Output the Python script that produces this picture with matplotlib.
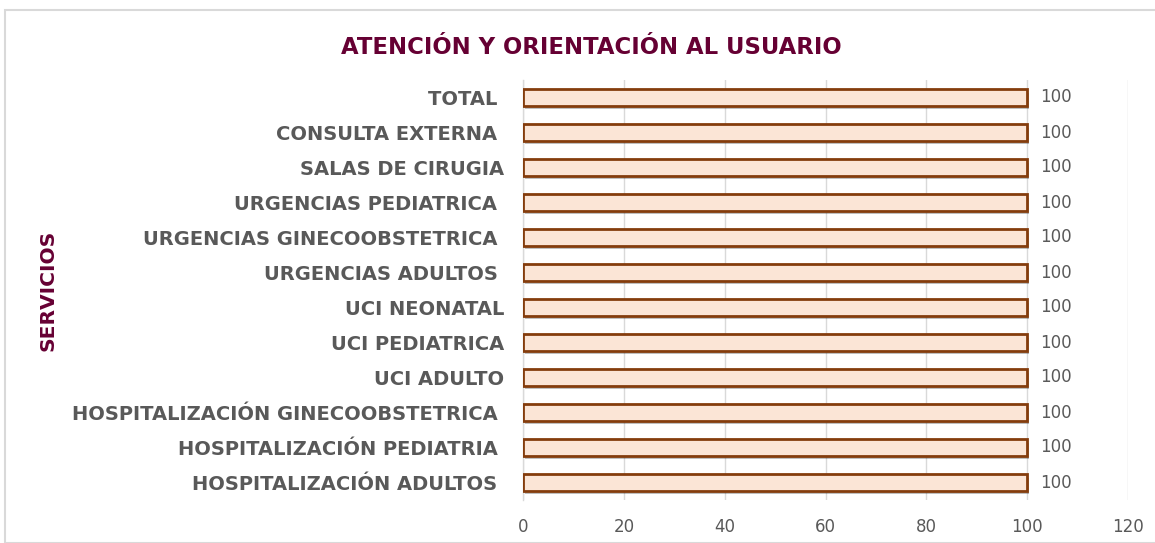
import matplotlib
matplotlib.use("Agg")
import matplotlib.pyplot as plt
from matplotlib.patches import Rectangle
import matplotlib.patheffects as pe

plt.rcParams["font.family"] = ["DejaVu Sans"]

categories = [
    "HOSPITALIZACIÓN ADULTOS ",
    "HOSPITALIZACIÓN PEDIATRIA ",
    "HOSPITALIZACIÓN GINECOOBSTETRICA ",
    "UCI ADULTO",
    "UCI PEDIATRICA",
    "UCI NEONATAL",
    "URGENCIAS ADULTOS ",
    "URGENCIAS GINECOOBSTETRICA ",
    "URGENCIAS PEDIATRICA ",
    "SALAS DE CIRUGIA",
    "CONSULTA EXTERNA ",
    "TOTAL ",
]
values = [100, 100, 100, 100, 100, 100, 100, 100, 100, 100, 100, 100]
xticks = [0, 20, 40, 60, 80, 100, 120]
title = "ATENCIÓN Y ORIENTACIÓN AL USUARIO"
ylabel = "SERVICIOS"

W, H = 1155, 543
fig = plt.figure(figsize=(W / 100, H / 100), dpi=100)
fig.patches.append(Rectangle((5 / W, 0), 1.2, 1 - 10 / H, transform=fig.transFigure,
                             fill=False, edgecolor="#D9D9D9", linewidth=1.5))

ax = fig.add_axes([523 / W, 1 - 500 / H, (1128 - 523) / W, (500 - 80) / H])
y = list(range(len(categories)))
bars = ax.barh(y, values, height=0.47, color="#FBE5D6", edgecolor="#843C0C",
               linewidth=2, zorder=3)
for b in bars:
    b.set_path_effects([pe.SimplePatchShadow(offset=(1.5, -2.5), shadow_rgbFace="#000000", alpha=0.25),
                        pe.Normal()])

for yi, v in zip(y, values):
    ax.text(v + 2.5, yi, f"{v}", va="center", ha="left", fontsize=12, color="#595959")

ax.set_xlim(0, 120)
ax.set_ylim(-0.5, len(categories) - 0.5)
ax.set_xticks(xticks)
ax.set_xticklabels([str(t) for t in xticks], fontsize=12, color="#595959")
ax.set_yticks(y)
ax.set_yticklabels(categories, fontsize=14, fontweight="bold", color="#595959")
ax.tick_params(axis="both", length=0)
ax.tick_params(axis="x", pad=13)
ax.tick_params(axis="y", pad=13.5)
ax.grid(axis="x", color="#D9D9D9", linewidth=1, zorder=0)
for s in ["top", "right", "bottom"]:
    ax.spines[s].set_visible(False)
ax.spines["left"].set_color("#D9D9D9")
ax.spines["left"].set_linewidth(1)

fig.text(591 / W, 1 - 47 / H, title, ha="center", va="center", fontsize=16.4,
         fontweight="bold", color="#660033")
fig.text(48 / W, 1 - 290 / H, ylabel, ha="center", va="center", rotation=90,
         fontsize=14.6, fontweight="bold", color="#660033")

fig.savefig("out.png", dpi=100)
